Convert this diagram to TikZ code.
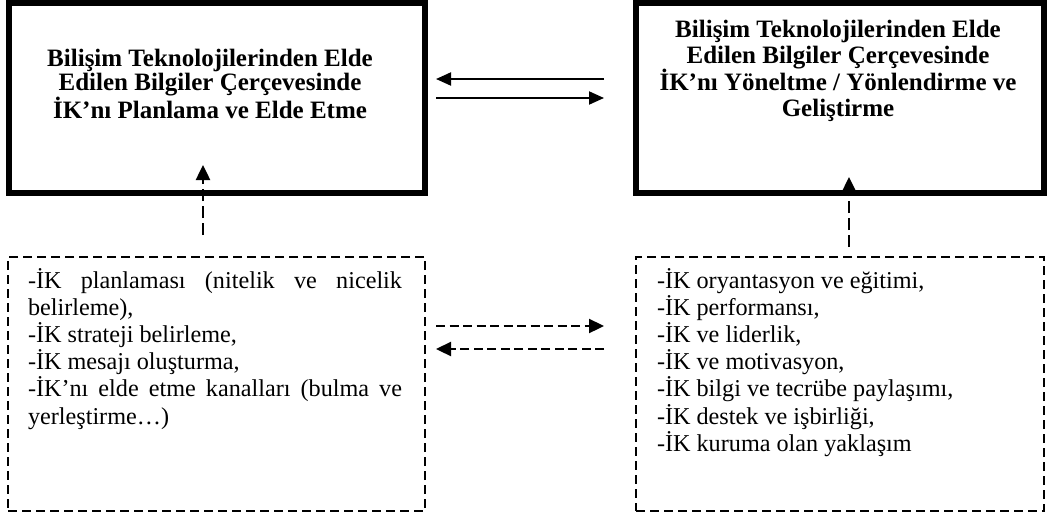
\documentclass[tikz,border=0pt]{standalone}
\usepackage{fontspec}
\setmainfont{Liberation Serif}
\usetikzlibrary{arrows.meta}
\begin{document}
\begin{tikzpicture}[x=1pt,y=-1pt,
  mainbox/.style={draw, line width=6pt, inner sep=0pt, outer sep=0pt, minimum height=190pt},
  listbox/.style={draw, line width=2pt, dash pattern=on 9pt off 5pt, inner sep=0pt, outer sep=0pt, minimum height=254pt},
  txt/.style={inner sep=0pt, outer sep=0pt},
  solidarrow/.style={line width=2pt, -{Triangle[length=15pt,width=13pt]}},
  dasharrow/.style={line width=2.3pt, dash pattern=on 9pt off 4.5pt, -{Triangle[length=15pt,width=14pt]}},
  vdasharrow/.style={line width=2.5pt, dash pattern=on 12pt off 5pt, -{Triangle[length=15pt,width=14pt]}}
]
\useasboundingbox (0,0) rectangle (1052,517);
% top boxes
\node[mainbox, minimum width=416pt] (lbox) at (217,98) {};
\node[mainbox, minimum width=408pt] (rbox) at (840,98) {};
\node[txt, anchor=base] (ltitle) at (210,66) {\parbox[t]{410pt}{\centering\bfseries\fontsize{25}{24.5}\selectfont
Bilişim Teknolojilerinden Elde\\
Edilen Bilgiler Çerçevesinde\\
İK’nı Planlama ve Elde Etme}};
\node[txt, anchor=base] (rtitle) at (838,37) {\parbox[t]{410pt}{\centering\bfseries\fontsize{25}{26}\selectfont
Bilişim Teknolojilerinden Elde\\
Edilen Bilgiler Çerçevesinde\\
İK’nı Yöneltme / Yönlendirme ve\\
Geliştirme}};
% bottom boxes
\node[listbox, minimum width=417pt] (ldash) at (216.5,384) {};
\node[listbox, minimum width=408pt] (rdash) at (840,384) {};
\node[txt, anchor=base west] (llist) at (28,288) {\parbox[t]{374pt}{\fontsize{24.2}{27.2}\selectfont
\makebox[\linewidth][s]{-İK planlaması (nitelik ve nicelik}\\
belirleme),\\
-İK strateji belirleme,\\
-İK mesajı oluşturma,\\
\makebox[\linewidth][s]{-İK’nı elde etme kanalları (bulma ve}\\
yerleştirme…)}};
\node[txt, anchor=base west] (rlist) at (657,288) {\parbox[t]{380pt}{\raggedright\fontsize{24.2}{27.2}\selectfont
-İK oryantasyon ve eğitimi,\\
-İK performansı,\\
-İK ve liderlik,\\
-İK ve motivasyon,\\
-İK bilgi ve tecrübe paylaşımı,\\
-İK destek ve işbirliği,\\
-İK kuruma olan yaklaşım}};
% solid arrows between top boxes
\draw[solidarrow] ([xshift=-32pt,yshift=19pt]rbox.west) -- ([xshift=11pt,yshift=19pt]lbox.east);
\draw[solidarrow] ([xshift=11pt]lbox.east) -- ([xshift=-32pt]rbox.west);
% dashed arrows between bottom boxes
\draw[dasharrow] ([xshift=11pt,yshift=58pt]ldash.east) -- ([xshift=-32pt,yshift=58pt]rdash.west);
\draw[dasharrow] ([xshift=-32pt,yshift=35pt]rdash.west) -- ([xshift=11pt,yshift=35pt]ldash.east);
% vertical dashed arrows
\draw[vdasharrow] ([xshift=-13.5pt,yshift=22pt]ldash.north) -- ([xshift=-14pt,yshift=28pt]lbox.south);
\draw[vdasharrow] ([xshift=9pt,yshift=10pt]rdash.north) -- ([xshift=9pt,yshift=16pt]rbox.south);
\end{tikzpicture}
\end{document}
